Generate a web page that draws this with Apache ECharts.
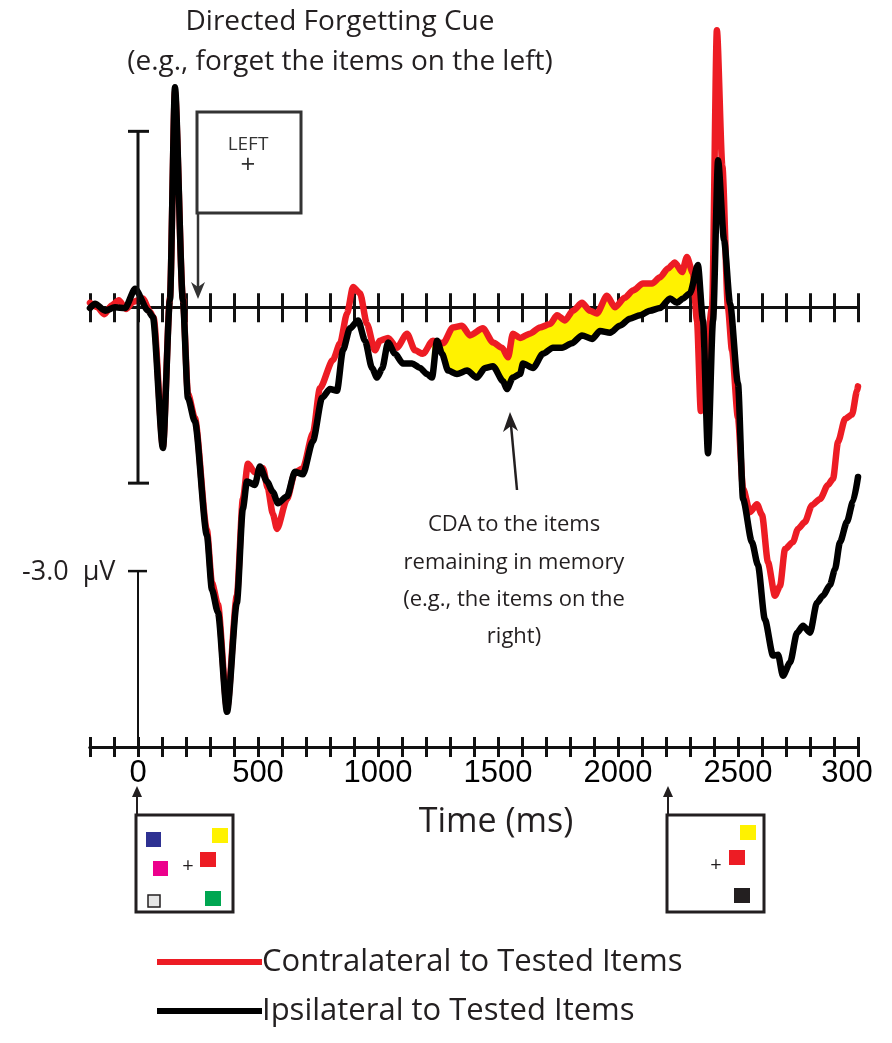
<!DOCTYPE html>
<html>
<head>
<meta charset="utf-8">
<script src="https://cdn.jsdelivr.net/npm/echarts@6/dist/echarts.min.js"></script>
<style>
html,body{margin:0;padding:0;background:#fff;}
#chart{width:892px;height:1043px;}
</style>
</head>
<body>
<div id="chart"></div>
<script>
// ---- data (time in ms, amplitude in µV) ----
const redTimes = [-200,-170,-140,-110,-80,-50,-20,20,50,65,104,133,154,187,208,237,287,308,333,371,412,437,458,487,521,540,562,579,621,654,687,729,758,812,842,871,896,925,954,987,1008,1042,1079,1121,1154,1187,1229,1271,1312,1350,1383,1437,1479,1517,1542,1562,1592,1633,1675,1717,1746,1779,1812,1850,1883,1912,1954,1987,2029,2062,2104,2142,2175,2208,2237,2267,2287,2312,2329,2345,2365,2392,2412,2435,2458,2475,2500,2521,2550,2579,2600,2625,2654,2675,2696,2729,2750,2779,2808,2842,2875,2896,2917,2946,2975,2996,3000];
const redValues = [0.05,0.0,-0.08,0.02,0.08,-0.02,0.06,0.1,-0.05,-0.12,-1.58,0.1,2.45,0.1,-0.98,-1.26,-2.53,-3.13,-3.38,-4.56,-3.28,-2.18,-1.78,-1.88,-1.83,-2.05,-2.35,-2.52,-2.18,-1.88,-1.83,-1.43,-0.92,-0.6,-0.41,-0.07,0.23,0.16,-0.19,-0.49,-0.38,-0.35,-0.46,-0.3,-0.49,-0.53,-0.38,-0.41,-0.23,-0.21,-0.32,-0.24,-0.4,-0.46,-0.57,-0.3,-0.35,-0.3,-0.23,-0.19,-0.09,-0.15,-0.04,0.05,-0.04,-0.07,0.13,0.0,0.11,0.19,0.27,0.27,0.34,0.44,0.51,0.4,0.57,0.39,-0.15,-1.18,-0.6,0.0,3.15,1.6,0.0,-0.49,-1.26,-2.06,-2.33,-2.24,-2.36,-2.9,-3.28,-3.17,-2.75,-2.67,-2.52,-2.44,-2.25,-2.18,-2.02,-1.95,-1.53,-1.27,-1.22,-0.95,-0.9];

const blackTimes = [-200,-179,-137,-96,-54,-12,42,62,104,133,154,187,208,237,287,308,333,371,412,437,454,487,508,537,562,583,621,654,687,729,767,800,829,854,883,917,946,975,996,1017,1042,1071,1104,1142,1175,1204,1225,1246,1267,1292,1329,1371,1412,1446,1479,1521,1537,1562,1592,1604,1646,1687,1729,1767,1808,1850,1892,1925,1967,2008,2050,2092,2133,2175,2217,2246,2271,2300,2333,2354,2375,2396,2417,2442,2467,2500,2521,2558,2583,2612,2646,2667,2687,2717,2746,2771,2800,2829,2854,2883,2904,2925,2954,2979,3000];
const blackValues = [-0.01,0.04,-0.04,0.0,-0.01,0.21,-0.04,-0.11,-1.6,0.08,2.5,0.08,-1.03,-1.3,-2.59,-3.21,-3.47,-4.6,-3.36,-2.29,-1.98,-2.02,-1.81,-1.98,-2.1,-2.23,-2.15,-1.87,-1.9,-1.52,-1.03,-0.93,-0.95,-0.49,-0.24,-0.15,-0.38,-0.69,-0.8,-0.7,-0.4,-0.53,-0.64,-0.64,-0.69,-0.76,-0.8,-0.38,-0.53,-0.72,-0.76,-0.72,-0.8,-0.69,-0.67,-0.84,-0.93,-0.8,-0.76,-0.64,-0.69,-0.53,-0.46,-0.46,-0.41,-0.32,-0.36,-0.27,-0.29,-0.21,-0.13,-0.09,-0.04,-0.01,0.1,0.05,0.1,0.16,0.48,-0.15,-1.66,-0.15,1.67,0.76,0.04,-0.87,-2.18,-2.67,-2.93,-3.55,-3.96,-3.95,-4.19,-4.04,-3.7,-3.62,-3.7,-3.36,-3.28,-3.16,-2.98,-2.67,-2.44,-2.21,-1.93];

const cdaWindow = [1225, 2315];           // yellow shaded interval (ms)
const tickLabelTimes = [0, 500, 1000, 1500, 2000, 2500, 3000];
const tickLabelTexts = ['0', '500', '1000', '1500', '2000', '2500', '300'];
const scaleBar = [2, -2];                 // µV
const unitTick = [-3, -5];                // µV
const seriesNames = ['Contralateral to Tested Items', 'Ipsilateral to Tested Items'];

// ---- build ----
const zip = (t, v) => t.map((x, i) => [x, v[i]]);
const redData = zip(redTimes, redValues);
const blackData = zip(blackTimes, blackValues);

const chart = echarts.init(document.getElementById('chart'));
const AX = '#111';
const gridRect = { left: 90, right: 34, top: 17, bottom: 296 };
const xBase = { type: 'value', min: -200, max: 3000, interval: 100, splitLine: { show: false } };
const yBase = { type: 'value', min: -5, max: 3.3, show: false, splitLine: { show: false } };

function labelFmt(v) {
  const i = tickLabelTimes.indexOf(v);
  if (i < 0) return '';
  if (v === 3000) return '{s|' + tickLabelTexts[i] + '}';
  return tickLabelTexts[i];
}

const fontM = '"Open Sans", "Noto Sans", sans-serif';
const fontH = '"Liberation Sans", Arial, sans-serif';

chart.setOption({
  animation: false,
  backgroundColor: '#fff',
  grid: [Object.assign({}, gridRect), Object.assign({}, gridRect)],
  xAxis: [
    Object.assign({}, xBase, {
      gridIndex: 0, position: 'bottom',
      axisLine: { onZero: false, lineStyle: { color: AX, width: 3 } },
      axisTick: { inside: false, length: 10, lineStyle: { color: AX, width: 3 } },
      axisLabel: {
        interval: 0, formatter: labelFmt, margin: 11, color: '#000',
        fontFamily: fontH, fontSize: 31,
        rich: { s: { fontFamily: fontH, fontSize: 31, color: '#000', padding: [0, 22, 0, 0] } }
      }
    }),
    Object.assign({}, xBase, {
      gridIndex: 0, position: 'top',
      axisLine: { onZero: true, lineStyle: { color: AX, width: 3 } },
      axisTick: { inside: false, length: 14, lineStyle: { color: AX, width: 3 } },
      axisLabel: { show: false }
    }),
    Object.assign({}, xBase, {
      gridIndex: 1, position: 'bottom',
      axisLine: { onZero: false, lineStyle: { color: AX, width: 3 } },
      axisTick: { inside: true, length: 10, lineStyle: { color: AX, width: 3 } },
      axisLabel: { show: false }
    }),
    Object.assign({}, xBase, {
      gridIndex: 1, position: 'top',
      axisLine: { onZero: true, lineStyle: { color: AX, width: 3 } },
      axisTick: { inside: true, length: 15, lineStyle: { color: AX, width: 3 } },
      axisLabel: { show: false }
    })
  ],
  yAxis: [
    Object.assign({}, yBase, { gridIndex: 0 }),
    Object.assign({}, yBase, { gridIndex: 1 })
  ],
  legend: {
    left: 157, top: 946, orient: 'vertical', icon: 'rect', padding: 0,
    itemWidth: 105, itemHeight: 6, itemGap: 17, selectedMode: false,
    data: seriesNames,
    textStyle: { fontFamily: fontM, fontSize: 31, color: '#231f20', lineHeight: 32, padding: [0, 0, 0, -5] }
  },
  series: [
    {
      type: 'custom', xAxisIndex: 0, yAxisIndex: 0, z: 1, silent: true,
      data: [[cdaWindow[0], 0]],
      renderItem: function (params, api) {
        const pts = [];
        redData.forEach(p => { if (p[0] >= cdaWindow[0] && p[0] <= cdaWindow[1]) pts.push(api.coord(p)); });
        blackData.slice().reverse().forEach(p => { if (p[0] >= cdaWindow[0] && p[0] <= cdaWindow[1]) pts.push(api.coord(p)); });
        return { type: 'polygon', shape: { points: pts, smooth: 0.2 }, style: { fill: '#fff200' } };
      }
    },
    {
      name: seriesNames[0], type: 'line', xAxisIndex: 0, yAxisIndex: 0, z: 3,
      data: redData, showSymbol: false, smooth: 0.25, smoothMonotone: 'x',
      lineStyle: { color: '#ed1c24', width: 6.5, join: 'round', cap: 'round' },
      itemStyle: { color: '#ed1c24' }
    },
    {
      name: seriesNames[1], type: 'line', xAxisIndex: 0, yAxisIndex: 0, z: 4,
      data: blackData, showSymbol: false, smooth: 0.25, smoothMonotone: 'x',
      lineStyle: { color: '#000', width: 6.5, join: 'round', cap: 'round' },
      itemStyle: { color: '#000' }
    },
    {
      type: 'custom', xAxisIndex: 0, yAxisIndex: 0, z: 5, silent: true,
      data: [[0, 0]],
      renderItem: function (params, api) {
        const a = api.coord([0, scaleBar[0]]);
        const b = api.coord([0, scaleBar[1]]);
        const c = api.coord([0, unitTick[0]]);
        const d = api.coord([0, unitTick[1]]);
        const st = { stroke: AX, lineWidth: 3 };
        return {
          type: 'group', children: [
            { type: 'line', shape: { x1: a[0], y1: a[1], x2: b[0], y2: b[1] }, style: st },
            { type: 'line', shape: { x1: a[0] - 10, y1: a[1], x2: a[0] + 11, y2: a[1] }, style: st },
            { type: 'line', shape: { x1: b[0] - 10, y1: b[1], x2: b[0] + 11, y2: b[1] }, style: st },
            { type: 'line', shape: { x1: c[0], y1: c[1], x2: d[0], y2: d[1] }, style: { stroke: AX, lineWidth: 2 } },
            { type: 'line', shape: { x1: c[0] - 10, y1: c[1], x2: c[0] + 9, y2: c[1] }, style: { stroke: AX, lineWidth: 2.5 } }
          ]
        };
      }
    }
  ],
  graphic: [
    // top annotation
    { type: 'text', x: 340, y: 22, style: { text: 'Directed Forgetting Cue', font: '28px ' + fontM, fill: '#231f20', align: 'center', verticalAlign: 'middle' } },
    { type: 'text', x: 340, y: 62, style: { text: '(e.g., forget the items on the left)', font: '28px ' + fontM, fill: '#231f20', align: 'center', verticalAlign: 'middle' } },
    // cue box
    { type: 'rect', shape: { x: 197, y: 112, width: 104, height: 101 }, style: { fill: '#fff', stroke: '#333', lineWidth: 3 }, z: 10 },
    { type: 'text', x: 248, y: 145, style: { text: 'LEFT', font: '19px ' + fontM, fill: '#333', align: 'center', verticalAlign: 'middle' }, z: 11 },
    { type: 'text', x: 248, y: 166, style: { text: '+', font: '26px ' + fontM, fill: '#333', align: 'center', verticalAlign: 'middle' }, z: 11 },
    { type: 'line', shape: { x1: 198, y1: 213, x2: 198, y2: 292 }, style: { stroke: '#333', lineWidth: 2.5 }, z: 10 },
    { type: 'polygon', shape: { points: [[191, 282], [198, 299], [205, 282], [198, 287]] }, style: { fill: '#333' }, z: 10 },
    // -3.0 µV label
    { type: 'text', x: 22, y: 572, style: { text: '-3.0  µV', font: '27px ' + fontM, fill: '#231f20', verticalAlign: 'middle' } },
    // CDA annotation
    { type: 'line', shape: { x1: 517, y1: 490, x2: 511, y2: 425 }, style: { stroke: '#231f20', lineWidth: 2.5 }, z: 10 },
    { type: 'polygon', shape: { points: [[503, 432], [510, 412], [518, 431], [511, 426]] }, style: { fill: '#231f20' }, z: 10 },
    { type: 'text', x: 514, y: 525, style: { text: 'CDA to the items', font: '22px ' + fontM, fill: '#231f20', align: 'center', verticalAlign: 'middle' } },
    { type: 'text', x: 514, y: 563, style: { text: 'remaining in memory', font: '22px ' + fontM, fill: '#231f20', align: 'center', verticalAlign: 'middle' } },
    { type: 'text', x: 514, y: 600, style: { text: '(e.g., the items on the', font: '22px ' + fontM, fill: '#231f20', align: 'center', verticalAlign: 'middle' } },
    { type: 'text', x: 514, y: 637, style: { text: 'right)', font: '22px ' + fontM, fill: '#231f20', align: 'center', verticalAlign: 'middle' } },
    // axis title
    { type: 'text', x: 496, y: 822, style: { text: 'Time (ms)', font: '34px ' + fontM, fill: '#231f20', align: 'center', verticalAlign: 'middle' } },
    // left memory array
    { type: 'rect', shape: { x: 136, y: 815, width: 97, height: 97 }, style: { fill: '#fff', stroke: '#231f20', lineWidth: 3 } },
    { type: 'line', shape: { x1: 137, y1: 815, x2: 137, y2: 794 }, style: { stroke: '#231f20', lineWidth: 2 } },
    { type: 'polygon', shape: { points: [[132, 797], [137, 786], [142, 797]] }, style: { fill: '#231f20' } },
    { type: 'rect', shape: { x: 146, y: 832, width: 15, height: 15 }, style: { fill: '#2e3192' } },
    { type: 'rect', shape: { x: 212, y: 828, width: 16, height: 15 }, style: { fill: '#fff200' } },
    { type: 'rect', shape: { x: 153, y: 861, width: 15, height: 15 }, style: { fill: '#ec008c' } },
    { type: 'rect', shape: { x: 200, y: 852, width: 16, height: 15 }, style: { fill: '#ed1c24' } },
    { type: 'rect', shape: { x: 148, y: 895, width: 12, height: 12 }, style: { fill: '#e6e6e6', stroke: '#231f20', lineWidth: 1.5 } },
    { type: 'rect', shape: { x: 205, y: 891, width: 16, height: 15 }, style: { fill: '#00a651' } },
    { type: 'text', x: 188, y: 866, style: { text: '+', font: '20px ' + fontM, fill: '#231f20', align: 'center', verticalAlign: 'middle' } },
    // right memory array
    { type: 'rect', shape: { x: 667, y: 815, width: 97, height: 97 }, style: { fill: '#fff', stroke: '#231f20', lineWidth: 3 } },
    { type: 'line', shape: { x1: 668, y1: 815, x2: 668, y2: 794 }, style: { stroke: '#231f20', lineWidth: 2 } },
    { type: 'polygon', shape: { points: [[663, 797], [668, 786], [673, 797]] }, style: { fill: '#231f20' } },
    { type: 'rect', shape: { x: 740, y: 825, width: 16, height: 15 }, style: { fill: '#fff200' } },
    { type: 'rect', shape: { x: 729, y: 850, width: 16, height: 15 }, style: { fill: '#ed1c24' } },
    { type: 'rect', shape: { x: 734, y: 888, width: 16, height: 15 }, style: { fill: '#231f20' } },
    { type: 'text', x: 716, y: 865, style: { text: '+', font: '20px ' + fontM, fill: '#231f20', align: 'center', verticalAlign: 'middle' } }
  ]
});
</script>
</body>
</html>
